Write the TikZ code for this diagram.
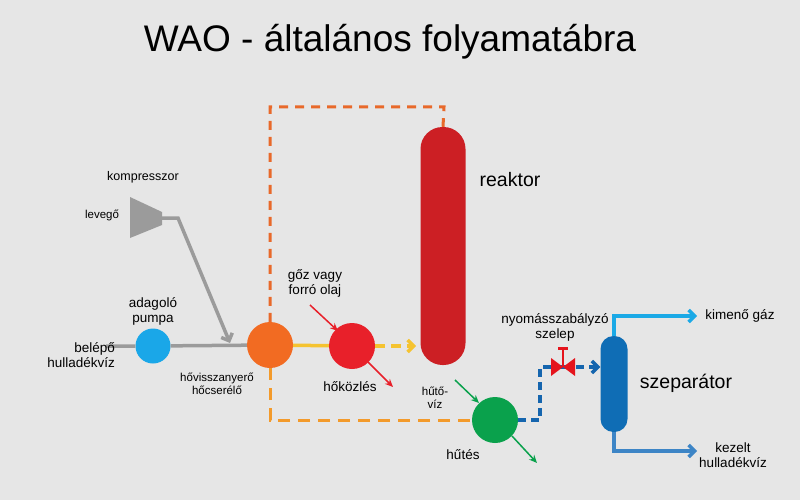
\documentclass[tikz,border=0pt]{standalone}
\usepackage{fontspec}
\setmainfont{Liberation Sans}
\usetikzlibrary{arrows.meta}
\definecolor{bg}{HTML}{E6E6E6}
\definecolor{gr}{HTML}{9B9B9B}
\definecolor{pblue}{HTML}{1AA7E8}
\definecolor{hxor}{HTML}{F26B22}
\definecolor{dor}{HTML}{E8692A}
\definecolor{lor}{HTML}{F39A2B}
\definecolor{yel}{HTML}{F5C330}
\definecolor{hred}{HTML}{E8202A}
\definecolor{rred}{HTML}{CC1F24}
\definecolor{grn}{HTML}{0AA14C}
\definecolor{dblue}{HTML}{1565AE}
\definecolor{sblue}{HTML}{0F6DB5}
\definecolor{lblue}{HTML}{1BA9E6}
\definecolor{mblue}{HTML}{3D85C6}
\definecolor{vred}{HTML}{E5141C}
\begin{document}
\begin{tikzpicture}[x=1pt,y=-1pt,
  lbl/.style={font=\fontsize{13.5}{15}\selectfont,align=center,inner sep=0pt},
  sml/.style={font=\fontsize{11.5}{13.5}\selectfont,align=center,inner sep=0pt},
  big/.style={font=\fontsize{19.5}{22}\selectfont,inner sep=0pt},
  ball/.style={circle,minimum size=46pt,inner sep=0pt},
  arr/.style={-{Straight Barb[length=6pt,width=12pt]}},
  thin arr/.style={line width=1.5pt,-{Stealth[length=8pt,width=7pt]}}]
\fill[bg] (0,0) rectangle (800,500);
\useasboundingbox (0,0) rectangle (800,500);
\node[inner sep=0pt,font=\fontsize{37}{40}\selectfont] (title) at (390,42) {WAO - általános folyamatábra};
% compressor
\fill[gr] (130,197) -- (162,212) -- (162,225) -- (130,238) -- cycle;
\coordinate (cout) at (162,218);
\node[sml,font=\fontsize{12.5}{14}\selectfont] (komp) at (143,177) {kompresszor};
\node[sml] (lev) at (102,215) {levegő};
% nodes
\node[ball,fill=pblue,minimum size=35pt] (pump) at (153,346) {};
\node[ball,fill=hxor] (hx) at (270,345) {};
\node[ball,fill=hred] (heat) at (352,346) {};
\node[ball,fill=grn] (cool) at (495,420) {};
\node[fill=rred,rounded corners=22pt,minimum width=45pt,minimum height=238pt,inner sep=0pt] (reac) at (443,246) {};
\node[fill=sblue,rounded corners=13pt,minimum width=27pt,minimum height=96pt,inner sep=0pt] (sep) at (614,384) {};
\coordinate (in) at (106,346);
% gray lines
\draw[gr,line width=3.5pt] (in) -- (pump) -- (hx);
\draw[gr,line width=3.5pt,arr] (cout) -- (178,218) -- (230,343);
% orange dashed
\draw[dor,line width=3pt,dash pattern=on 9pt off 7pt] (hx.north) -- (270,107) -- (444,107) -- (reac.north);
\draw[lor,line width=3pt,dash pattern=on 12pt off 8pt] (hx.south) -- (270,420) -- (cool.west);
% yellow
\draw[yel,line width=3.5pt] (hx) -- (heat);
\draw[yel,line width=3.5pt,dash pattern=on 10pt off 6pt,arr] (heat.east) -- (416,346);
% red arrows
\coordinate (s1) at (310,305); \coordinate (s2) at (338,331);
\coordinate (s3) at (368,362); \coordinate (s4) at (393,387);
\draw[hred,thin arr] (s1) -- (s2);
\draw[hred,thin arr] (s3) -- (s4);
% green arrows
\coordinate (g1) at (455,380); \coordinate (g2) at (479,403);
\coordinate (g3) at (512,436); \coordinate (g4) at (537,463);
\draw[grn,thin arr] (g1) -- (g2);
\draw[grn,thin arr] (g3) -- (g4);
% blue dashed with valve
\coordinate (valve) at (563,367);
\draw[dblue,line width=3.5pt,dash pattern=on 8pt off 5pt] (cool.east) -- (540,420) -- (540,367) -- (valve);
\draw[dblue,line width=3.5pt,dash pattern=on 8pt off 5pt,arr] (valve) -- (sep.west |- valve);
\fill[vred] (551,358) -- (551,376) -- (575,358) -- (575,376) -- cycle;
\draw[vred,line width=2.5pt] (valve) -- (563,349);
\draw[vred,line width=3pt] (558,348) -- (568,348);
% separator outputs
\coordinate (gas) at (697,316);
\coordinate (wat) at (697,451);
\draw[lblue,line width=3.5pt,arr] (sep.north) -- (614,316) -- (gas);
\draw[mblue,line width=3.5pt,arr] (sep.south) -- (614,451) -- (wat);
% labels
\node[lbl,align=right,anchor=east] (belep) at (115,355) {belépő\\hulladékvíz};
\node[lbl] (pumplbl) at (153,311) {adagoló\\pumpa};
\node[sml] (hxlbl) at (217,384) {hővisszanyerő\\hőcserélő};
\node[lbl] (goz) at (315,283) {gőz vagy\\forró olaj};
\node[lbl] (hokoz) at (350,387) {hőközlés};
\node[big] (reaklbl) at (510,180) {reaktor};
\node[sml] (hutoviz) at (435,398) {hűtő-\\víz};
\node[lbl] (hutes) at (463,455) {hűtés};
\node[lbl] (nyom) at (555,327) {nyomásszabályzó\\szelep};
\node[big] (seplbl) at (686,383) {szeparátor};
\node[lbl] (kim) at (740,316) {kimenő gáz};
\node[lbl] (kez) at (733,455) {kezelt\\hulladékvíz};
\end{tikzpicture}
\end{document}
